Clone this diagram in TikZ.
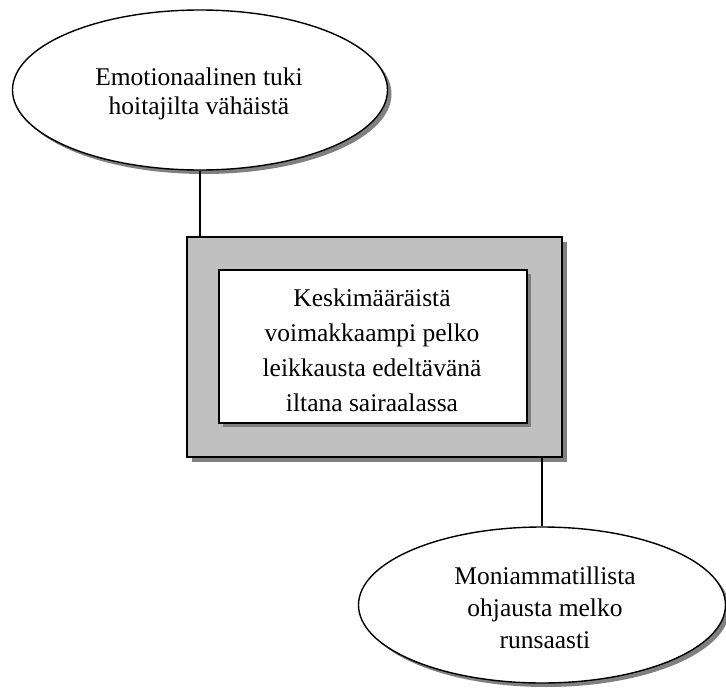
\documentclass[tikz,border=0pt]{standalone}
\usepackage{fontspec}
\setmainfont{Liberation Serif}
\usetikzlibrary{shapes.geometric,shadows}
\definecolor{boxgray}{RGB}{192,192,192}
\definecolor{shadgray}{RGB}{128,128,128}
\tikzset{
  myshadow/.style={drop shadow={shadow xshift=4pt,shadow yshift=-4pt,fill=shadgray,opacity=1}},
  oval/.style={ellipse,draw,line width=1.4pt,fill=white,inner sep=0pt,align=center,myshadow},
  outerbox/.style={rectangle,draw,line width=1.4pt,fill=boxgray,inner sep=0pt,drop shadow={shadow xshift=5pt,shadow yshift=-5pt,fill=shadgray,opacity=1}},
  innerbox/.style={rectangle,draw,line width=1.4pt,fill=white,inner sep=0pt,align=center,myshadow},
  label/.style={align=center,inner sep=0pt},
  conn/.style={line width=1.4pt}
}
\begin{document}
\begin{tikzpicture}[x=1pt,y=-1pt]
\useasboundingbox (0,0) rectangle (726,688);
\node[oval,minimum width=375pt,minimum height=160pt] (e1) at (200,90) {};
\node[label,font=\fontsize{25.5}{29}\selectfont] (t1) at (199,94) {Emotionaalinen tuki\\hoitajilta vähäistä};
\node[outerbox,minimum width=375pt,minimum height=220pt] (outer) at (374.5,347) {};
\node[innerbox,minimum width=308pt,minimum height=153pt] (inner) at (373,346.5) {};
\node[label,font=\fontsize{25.5}{35}\selectfont] (t2) at (372,350) {Keskimääräistä\\voimakkaampi pelko\\leikkausta edeltävänä\\iltana sairaalassa};
\node[oval,minimum width=367pt,minimum height=156pt] (e2) at (542,605) {};
\node[label,font=\fontsize{25.5}{32}\selectfont] (t3) at (545,608) {Moniammatillista\\ohjausta melko\\runsaasti};
\draw[conn] (e1.south) -- (e1.south |- outer.north);
\draw[conn] (e2.north) -- (e2.north |- outer.south);
\end{tikzpicture}
\end{document}
